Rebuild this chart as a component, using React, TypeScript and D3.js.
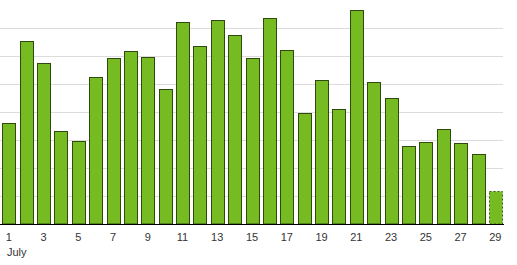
import React from "react";
import * as d3 from "d3";

const days: number[] = Array.from({ length: 29 }, (_, i) => i + 1);
const values: number[] = [
  36, 65.2, 57.4, 33.1, 29.6, 52.4, 59.2, 61.7, 59.5, 48.1,
  72, 63.5, 72.8, 67.4, 59.2, 73.5, 62, 39.5, 51.3, 41.1,
  76.3, 50.6, 44.9, 27.8, 29.2, 33.8, 28.8, 24.9, 11.7,
];
const partialDays: number[] = [29];
const tickDays: number[] = [1, 3, 5, 7, 9, 11, 13, 15, 17, 19, 21, 23, 25, 27, 29];
const gridValues: number[] = [10, 20, 30, 40, 50, 60, 70];
const monthLabel = "July";

const W = 517;
const H = 265;
const plotLeft = 0;
const plotRight = 504;
const plotTop = 0;
const plotBottom = 224;

export default function App() {
  const x = d3
    .scaleBand<number>()
    .domain(days)
    .range([plotLeft, plotRight])
    .paddingInner(0.26)
    .paddingOuter(0.13);
  const y = d3.scaleLinear().domain([0, 80]).range([plotBottom, plotTop]);

  return (
    <svg
      width={W}
      height={H}
      style={{ position: "absolute", left: 0, top: 0, background: "#fff" }}
      fontFamily="'Liberation Sans', Arial, sans-serif"
    >
      {gridValues.map((g) => (
        <line
          key={g}
          x1={plotLeft}
          x2={plotRight - 1}
          y1={Math.round(y(g)) + 0.5}
          y2={Math.round(y(g)) + 0.5}
          stroke="#dcdcdc"
          strokeWidth={1}
        />
      ))}
      {days.map((d, i) => {
        const partial = partialDays.includes(d);
        const x0 = Math.round(x(d)!) + 0.5;
        const w = Math.round(x.bandwidth());
        const top = Math.round(y(values[i])) + 0.5;
        return (
          <rect
            key={d}
            x={x0}
            y={top}
            width={w}
            height={plotBottom - top}
            fill="#77bb22"
            stroke={partial ? "#3a5a12" : "#2f4a0e"}
            strokeWidth={1}
            strokeDasharray={partial ? "2,2" : undefined}
          />
        );
      })}
      <line
        x1={plotLeft}
        x2={plotRight}
        y1={plotBottom + 0.5}
        y2={plotBottom + 0.5}
        stroke="#000"
        strokeWidth={1.2}
      />
      {tickDays.map((d) => (
        <text
          key={d}
          x={x(d)! + x.bandwidth() / 2}
          y={241}
          textAnchor="middle"
          fontSize={11}
          fill="#333"
        >
          {d}
        </text>
      ))}
      <text x={7} y={256} fontSize={11} fill="#333">
        {monthLabel}
      </text>
    </svg>
  );
}
